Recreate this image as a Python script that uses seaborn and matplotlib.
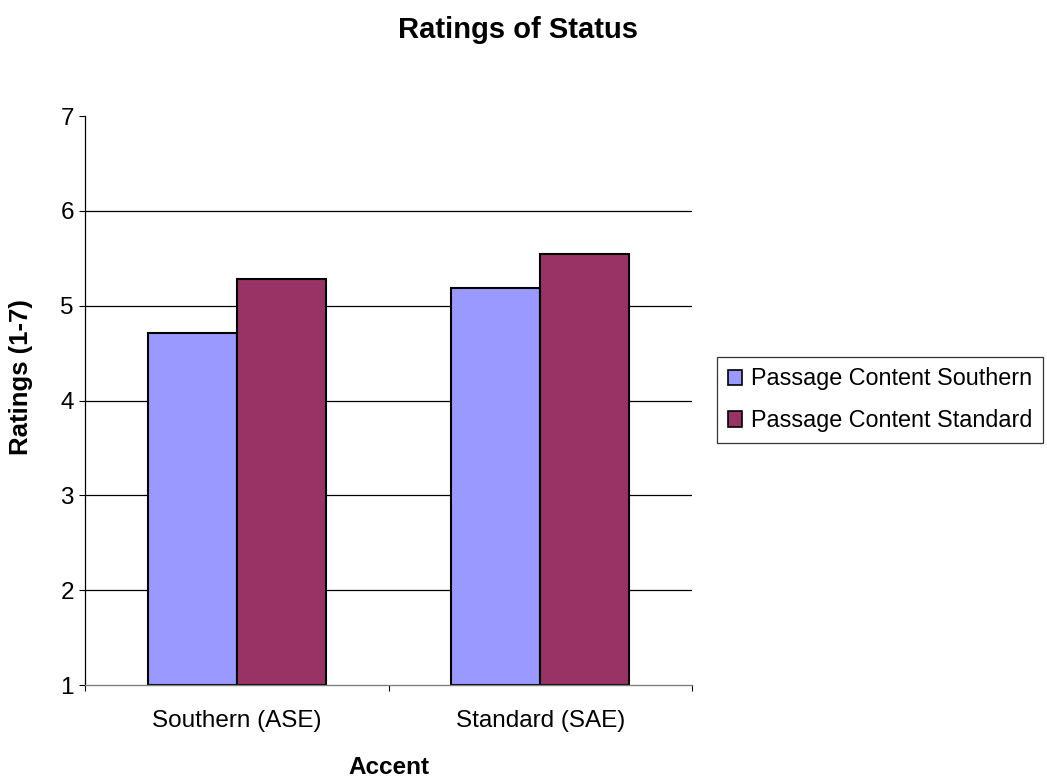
import matplotlib
matplotlib.use("Agg")
import matplotlib.pyplot as plt
import seaborn as sns
import pandas as pd
from matplotlib.patches import Patch

accents = ["Southern (ASE)", "Standard (SAE)"]
series_names = ["Passage Content Southern", "Passage Content Standard"]
content_southern = [4.71, 5.19]
content_standard = [5.28, 5.54]
colors = ["#9999FF", "#993366"]

df = pd.DataFrame({
    "Accent": accents * 2,
    "Series": [series_names[0]] * 2 + [series_names[1]] * 2,
    "Rating": content_southern + content_standard,
})

sns.set_theme(style="white")
plt.rcParams["font.family"] = ["Liberation Sans", "DejaVu Sans"]
plt.rcParams["text.color"] = "black"
plt.rcParams["axes.labelcolor"] = "black"
plt.rcParams["xtick.color"] = "black"
plt.rcParams["ytick.color"] = "black"

fig = plt.figure(figsize=(10.47, 7.8), dpi=100)
ax = fig.add_axes([85 / 1047, 95 / 780, 607 / 1047, 569 / 780])

sns.barplot(data=df, x="Accent", y="Rating", hue="Series", order=accents,
            hue_order=series_names, palette=colors, width=0.586,
            edgecolor="black", linewidth=1.5, ax=ax, legend=False,
            saturation=1)

# bars start at the axis floor of 1
for p in ax.patches:
    h = p.get_height()
    p.set_y(1)
    p.set_height(h - 1)

ax.set_ylim(1, 7)
ax.set_xlim(-0.5, 1.5)
ax.set_yticks(range(1, 8))
ax.set_xticks([-0.5, 0.5, 1.5], minor=False)
ax.set_xticklabels([])
ax.set_xticks([0, 1], minor=True)
ax.set_xticklabels(accents, minor=True)
ax.tick_params(axis="x", which="minor", length=0, pad=18, labelsize=17.5)
ax.tick_params(axis="x", which="major", direction="out", length=4.5,
               width=0.8, color="black", bottom=True)
ax.tick_params(axis="y", direction="out", length=4.5, width=0.8,
               color="black", left=True, labelsize=17.5, pad=3.5)
for y in range(2, 7):
    ax.axhline(y, color="black", linewidth=0.9, zorder=0)

for s in ["top", "right"]:
    ax.spines[s].set_visible(False)
ax.spines["left"].set_color("black")
ax.spines["left"].set_linewidth(0.9)
ax.spines["bottom"].set_color("#808080")
ax.spines["bottom"].set_linewidth(1)

ax.set_xlabel("Accent", fontsize=17.5, fontweight="bold")
ax.xaxis.set_label_coords(0.5, -(767 - 685) / 569)
ax.xaxis.label.set_va("center")
ax.set_ylabel("Ratings (1-7)", fontsize=18.5, fontweight="bold")
ax.yaxis.set_label_coords(-(85 - 21) / 607, (685 - 377) / 569)
ax.yaxis.label.set_va("center")
fig.text(518 / 1047, 1 - 30 / 780, "Ratings of Status", fontsize=21,
         fontweight="bold", ha="center", va="center")

handles = [Patch(facecolor=c, edgecolor="black", linewidth=1.2) for c in colors]
leg = fig.legend(handles, series_names, loc="upper left",
                 bbox_to_anchor=(717 / 1047, 1 - 357 / 780),
                 fontsize=16.8, frameon=True, fancybox=False,
                 handlelength=0.64, handleheight=0.64, handletextpad=0.38,
                 labelspacing=0.8, borderpad=0.45, borderaxespad=0)
leg.get_frame().set_edgecolor("black")
leg.get_frame().set_linewidth(0.9)

fig.savefig("out.png", dpi=100, facecolor="white")
